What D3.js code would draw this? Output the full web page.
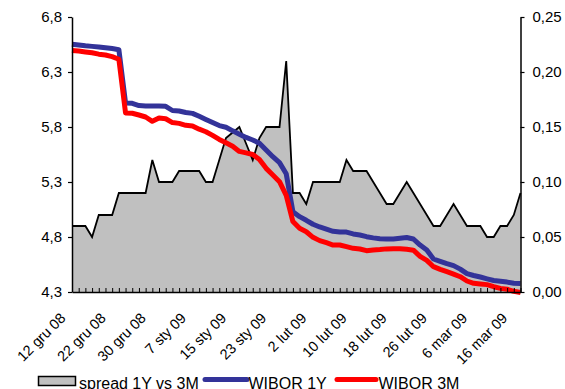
<!DOCTYPE html>
<html>
<head>
<meta charset="utf-8">
<script src="https://cdn.jsdelivr.net/npm/d3@7/dist/d3.min.js"></script>
<style>
  html, body { margin: 0; padding: 0; background: #fff; }
  svg { display: block; font-family: "Liberation Sans", Arial, Helvetica, sans-serif; }
</style>
</head>
<body>
<svg id="chart" width="565" height="389"></svg>
<script>
// Fixing dates (business days), 12 Dec 2008 – 17 Mar 2009
const dates = [
  "12 gru 08","15 gru 08","16 gru 08","17 gru 08","18 gru 08","19 gru 08",
  "22 gru 08","23 gru 08","24 gru 08","25 gru 08","26 gru 08","29 gru 08",
  "30 gru 08","31 gru 08","1 sty 09","2 sty 09","5 sty 09","6 sty 09",
  "7 sty 09","8 sty 09","9 sty 09","12 sty 09","13 sty 09","14 sty 09",
  "15 sty 09","16 sty 09","19 sty 09","20 sty 09","21 sty 09","22 sty 09",
  "23 sty 09","26 sty 09","27 sty 09","28 sty 09","29 sty 09","30 sty 09",
  "2 lut 09","3 lut 09","4 lut 09","5 lut 09","6 lut 09","9 lut 09",
  "10 lut 09","11 lut 09","12 lut 09","13 lut 09","16 lut 09","17 lut 09",
  "18 lut 09","19 lut 09","20 lut 09","23 lut 09","24 lut 09","25 lut 09",
  "26 lut 09","27 lut 09","2 mar 09","3 mar 09","4 mar 09","5 mar 09",
  "6 mar 09","9 mar 09","10 mar 09","11 mar 09","12 mar 09","13 mar 09",
  "16 mar 09","17 mar 09"
];

// WIBOR 1Y (%, left axis)
const wibor1Y = [
  6.553, 6.545, 6.538, 6.533, 6.528, 6.520, 6.513, 6.503, 6.018, 6.015,
  5.995, 5.991, 5.990, 5.990, 5.988, 5.950, 5.946, 5.932, 5.924, 5.897,
  5.868, 5.840, 5.813, 5.798, 5.765, 5.735, 5.705, 5.682, 5.652, 5.591,
  5.530, 5.476, 5.375, 5.030, 4.985, 4.952, 4.916, 4.891, 4.871, 4.852,
  4.845, 4.845, 4.828, 4.818, 4.803, 4.792, 4.785, 4.782, 4.782, 4.788,
  4.795, 4.782, 4.727, 4.682, 4.600, 4.579, 4.558, 4.540, 4.508, 4.467,
  4.450, 4.436, 4.420, 4.405, 4.398, 4.390, 4.379, 4.377
];

// WIBOR 3M (%, left axis)
const wibor3M = [
  6.495, 6.490, 6.482, 6.475, 6.462, 6.455, 6.440, 6.416, 5.927, 5.925,
  5.909, 5.891, 5.852, 5.882, 5.875, 5.840, 5.833, 5.815, 5.810, 5.780,
  5.757, 5.724, 5.687, 5.656, 5.625, 5.578, 5.565, 5.550, 5.505, 5.424,
  5.364, 5.303, 5.178, 4.940, 4.879, 4.848, 4.797, 4.767, 4.748, 4.727,
  4.727, 4.712, 4.697, 4.691, 4.676, 4.682, 4.686, 4.692, 4.694, 4.694,
  4.688, 4.680, 4.624, 4.588, 4.530, 4.506, 4.485, 4.463, 4.439, 4.400,
  4.379, 4.373, 4.367, 4.348, 4.333, 4.325, 4.306, 4.296
];

// Spread 1Y vs 3M (p.p., right axis)
const spread = [
  0.06, 0.06, 0.06, 0.05, 0.07, 0.07, 0.07, 0.09, 0.09, 0.09,
  0.09, 0.09, 0.12, 0.10, 0.10, 0.10, 0.11, 0.11, 0.11, 0.11,
  0.10, 0.10, 0.12, 0.14, 0.145, 0.15, 0.135, 0.12, 0.14, 0.15,
  0.15, 0.15, 0.21, 0.09, 0.09, 0.08, 0.10, 0.10, 0.10, 0.10,
  0.10, 0.12, 0.11, 0.11, 0.11, 0.10, 0.09, 0.08, 0.08, 0.09,
  0.10, 0.09, 0.08, 0.07, 0.06, 0.06, 0.07, 0.08, 0.07, 0.06,
  0.06, 0.06, 0.05, 0.05, 0.06, 0.06, 0.07, 0.09
];

const leftTicks = [4.3, 4.8, 5.3, 5.8, 6.3, 6.8];
const rightTicks = [0, 0.05, 0.10, 0.15, 0.20, 0.25];
const labelStep = 6;

const seriesNames = ["spread 1Y vs 3M", "WIBOR 1Y", "WIBOR 3M"];
const colors = { spreadFill: "#c0c0c0", line1Y: "#333399", line3M: "#ff0000" };

const plot = { left: 72, right: 520.5, top: 17, bottom: 292 };

const svg = d3.select("#chart");

const x = d3.scalePoint()
  .domain(d3.range(dates.length))
  .range([plot.left, plot.right]);
const yL = d3.scaleLinear().domain([4.3, 6.8]).range([plot.bottom, plot.top]);
const yR = d3.scaleLinear().domain([0, 0.25]).range([plot.bottom, plot.top]);

const comma = f => v => d3.format(f)(v).replace(".", ",");

// Spread area (secondary axis)
svg.append("path")
  .datum(spread)
  .attr("fill", colors.spreadFill)
  .attr("d", d3.area()
    .x((d, i) => x(i))
    .y0(yR(0))
    .y1(d => yR(d)));

svg.append("path")
  .datum(spread)
  .attr("fill", "none")
  .attr("stroke", "#000")
  .attr("stroke-width", 1.8)
  .attr("stroke-linejoin", "miter")
  .attr("d", d3.line().x((d, i) => x(i)).y(d => yR(d)));

// WIBOR lines (primary axis)
const rateLine = d3.line().x((d, i) => x(i)).y(d => yL(d));

svg.append("path")
  .datum(wibor1Y)
  .attr("fill", "none")
  .attr("stroke", colors.line1Y)
  .attr("stroke-width", 5)
  .attr("stroke-linejoin", "round")
  .attr("d", rateLine);

svg.append("path")
  .datum(wibor3M)
  .attr("fill", "none")
  .attr("stroke", colors.line3M)
  .attr("stroke-width", 5)
  .attr("stroke-linejoin", "round")
  .attr("d", rateLine);

// Axes
function styleAxis(g) {
  g.select(".domain").attr("stroke", "#000").attr("stroke-width", 1.5);
  g.selectAll(".tick line").attr("stroke", "#000").attr("stroke-width", 1.2);
  g.selectAll("text").attr("fill", "#000").attr("font-size", 15)
    .attr("font-family", "'Liberation Sans', Arial, sans-serif");
}

svg.append("g")
  .attr("transform", `translate(${plot.left},0)`)
  .call(d3.axisLeft(yL).tickValues(leftTicks).tickSizeInner(4).tickSizeOuter(0)
    .tickPadding(6).tickFormat(comma(".1f")))
  .call(styleAxis);

svg.append("g")
  .attr("transform", `translate(${plot.right},0)`)
  .call(d3.axisRight(yR).tickValues(rightTicks).tickSizeInner(4).tickSizeOuter(0)
    .tickPadding(8).tickFormat(comma(".2f")))
  .call(styleAxis);

const xAxis = svg.append("g")
  .attr("transform", `translate(0,${plot.bottom})`)
  .call(d3.axisBottom(x).tickSizeInner(-4).tickSizeOuter(0)
    .tickFormat(i => i % labelStep === 0 ? dates[i] : ""))
  .call(styleAxis);

xAxis.selectAll(".tick line").attr("stroke-width", 1);
xAxis.selectAll("text")
  .attr("font-size", 14.5)
  .attr("text-anchor", "end")
  .attr("x", 0).attr("y", 0).attr("dy", null)
  .attr("transform", "translate(-6,27) rotate(-45)");

// Legend
const legend = svg.append("g").attr("font-size", 16).attr("fill", "#000");

legend.append("rect")
  .attr("x", 38.5).attr("y", 376.5).attr("width", 37).attr("height", 9)
  .attr("fill", colors.spreadFill).attr("stroke", "#000").attr("stroke-width", 1.5);
legend.append("text").attr("x", 79).attr("y", 388.5).text(seriesNames[0]);

legend.append("line")
  .attr("x1", 205).attr("x2", 247).attr("y1", 379.5).attr("y2", 379.5)
  .attr("stroke", colors.line1Y).attr("stroke-width", 5).attr("stroke-linecap", "round");
legend.append("text").attr("x", 248.5).attr("y", 388.5).text(seriesNames[1]);

legend.append("line")
  .attr("x1", 337).attr("x2", 376).attr("y1", 379.5).attr("y2", 379.5)
  .attr("stroke", colors.line3M).attr("stroke-width", 5).attr("stroke-linecap", "round");
legend.append("text").attr("x", 378.5).attr("y", 388.5).text(seriesNames[2]);
</script>
</body>
</html>
